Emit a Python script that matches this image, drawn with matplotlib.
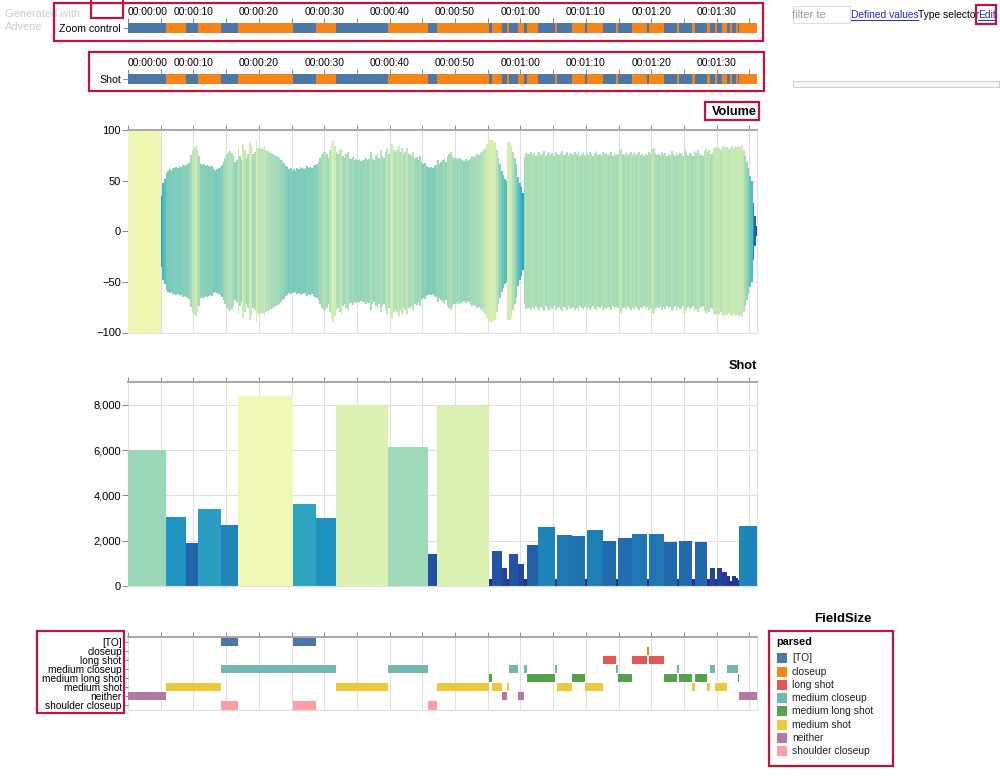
import matplotlib
matplotlib.use("Agg")
import matplotlib.pyplot as plt
from matplotlib.patches import Rectangle
import numpy as np

plt.rcParams['font.family'] = ['Liberation Sans', 'DejaVu Sans']

# ---- data ----
shot_start = [0, 5.81, 8.87, 10.70, 14.22, 16.82, 25.23, 28.75, 31.80, 39.76, 45.87, 47.25,
              55.25, 55.61, 57.14, 58.0, 58.31, 59.68, 60.6, 60.96, 62.74, 65.29, 65.65, 67.84,
              69.93, 70.24, 72.68, 74.62, 74.97, 77.07, 79.31, 79.72, 81.96, 83.89, 84.3, 86.24,
              86.65, 88.58, 88.94, 89.7, 90.06, 90.88, 91.54, 92.1, 92.3, 92.97, 93.32, 93.48]
shot_duration = [6000, 3050, 1900, 3400, 2700, 8400, 3600, 3000, 8000, 6150, 1400, 7950,
                 330, 1550, 800, 300, 1430, 980, 300, 1800, 2600, 300, 2250, 2200,
                 300, 2450, 2000, 300, 2100, 2280, 300, 2300, 1950, 300, 2000, 300,
                 1950, 300, 780, 300, 800, 600, 450, 200, 450, 350, 250, 2650]
video_end = 96.2

volume_intro = 100
volume_intro_end = 5.0
volume_first = 5.0
volume_step = 0.25
volume = [
    35, 48, 52, 58,  60, 61, 60, 62,  62, 63, 62, 64,  63, 65, 64, 65,  66, 67, 75, 80,
    82, 84, 80, 74,  66, 65, 66, 64,  65, 64, 63, 64,  61, 60, 61, 62,  63, 65, 68, 72,
    76, 78, 79, 77,  74, 68, 70, 82,  74, 70, 86, 80,  72, 76, 88, 84,  76, 78, 90, 82,
    80, 82, 81, 84,  80, 79, 78, 77,  76, 75, 74, 73,  72, 70, 68, 67,  64, 63, 61, 62,
    60, 61, 60, 62,  61, 63, 62, 61,  62, 64, 62, 63,  62, 64, 65, 66,  68, 72, 76, 78,
    78, 76, 72, 80,  86, 90, 84, 78,  76, 80, 82, 74,  72, 76, 78, 72,  71, 73, 70, 71,
    70, 71, 69, 70,  70, 72, 70, 71,  78, 72, 70, 74,  76, 72, 80, 74,  72, 78, 82, 76,
    84, 86, 80, 78,  80, 84, 78, 82,  76, 78, 82, 76,  76, 74, 78, 72,  73, 70, 74, 68,
    66, 67, 64, 63,  62, 63, 62, 64,  65, 70, 66, 68,  70, 72, 68, 74,  76, 78, 74, 72,
    72, 70, 72, 71,  70, 69, 71, 69,  70, 72, 74, 73,  74, 76, 75, 77,  78, 80, 82, 86,
    90, 90, 90, 89,  88, 80, 72, 66,  60, 56, 52, 50,  88, 88, 84, 78,  72, 66, 54, 48,
    44, 38, 72, 77,  76, 76, 78, 75,  77, 74, 76, 78,  75, 77, 79, 74,  76, 78, 75, 77,
    74, 78, 76, 75,  77, 79, 75, 76,  78, 74, 77, 76,  75, 78, 76, 79,  74, 76, 78, 75,
    77, 75, 78, 76,  74, 77, 79, 75,  76, 74, 78, 76,  77, 75, 76, 78,  74, 77, 75, 76,
    82, 81, 76, 75,  77, 74, 76, 78,  75, 77, 74, 76,  78, 75, 76, 74,  77, 75, 78, 76,
    81, 82, 77, 75,  76, 74, 78, 75,  77, 74, 76, 75,  79, 76, 74, 78,  75, 77, 76, 74,
    81, 78, 75, 77,  76, 74, 79, 77,  80, 76, 75, 74,  79, 81, 78, 80,  76, 77, 82, 83,
    81, 82, 80, 83,  84, 82, 83, 81,  83, 84, 82, 84,  83, 84, 83, 85,
    80, 74, 68, 62,  55, 50, 28, 15,  5]

field_categories = ['[TO]', 'closeup', 'long shot', 'medium closeup', 'medium long shot',
                    'medium shot', 'neither', 'shoulder closeup']
field_colors = ['#4c78a8', '#f58518', '#e45756', '#72b7b2', '#54a24b', '#eeca3b', '#b279a2', '#ff9da6']
field_label = ['neither', 'medium shot', '[TO]', 'medium closeup', 'shoulder closeup', '[TO]',
               'shoulder closeup', 'medium shot', 'medium closeup', 'shoulder closeup', 'medium shot',
               'medium long shot', 'medium shot', 'neither', 'medium shot', 'medium closeup', 'neither',
               'medium closeup', 'medium long shot', 'medium closeup', 'medium shot', 'medium long shot',
               'medium shot', 'long shot', 'medium closeup', 'medium long shot', 'long shot',
               'closeup', 'long shot', 'medium long shot', 'medium closeup', 'medium long shot', 'medium shot',
               'medium long shot', 'medium shot', 'medium closeup', 'medium shot', 'medium closeup',
               'medium long shot', 'neither']
field_start = [0, 5.81, 14.22, 14.22, 14.22, 25.23, 25.23, 31.80, 39.76, 45.87, 47.25,
               55.25, 55.61, 57.14, 58.0, 58.31, 59.68, 60.6, 60.96, 65.29, 65.65, 67.84,
               69.93, 72.68, 74.62, 74.97, 77.07, 79.31, 79.72, 81.96, 83.89, 84.3, 86.24,
               86.65, 88.58, 88.94, 89.7, 91.54, 93.32, 93.48]
field_end = [5.81, 14.22, 16.82, 31.80, 16.82, 28.75, 28.75, 39.76, 45.87, 47.25, 55.25,
             55.61, 57.14, 58.0, 58.31, 59.68, 60.6, 60.96, 65.29, 65.65, 67.84, 69.93,
             72.68, 74.62, 74.97, 77.07, 79.31, 79.72, 81.96, 83.89, 84.3, 86.24, 86.65,
             88.58, 88.94, 89.7, 91.54, 93.32, 93.48, 96.13]

time_ticks = list(range(0, 96, 5))
time_labels = ['00:00:00', '00:00:10', '00:00:20', '00:00:30', '00:00:40', '00:00:50',
               '00:01:00', '00:01:10', '00:01:20', '00:01:30']
volume_ticks = [-100, -50, 0, 50, 100]
volume_tick_labels = ['\u2212100', '\u221250', '0', '50', '100']
shot_ticks = [0, 2000, 4000, 6000, 8000]
shot_tick_labels = ['0', '2,000', '4,000', '6,000', '8,000']

# colour ramps (position in YlGnBu for a value)
vol_anchor_v = [0, 30, 50, 60, 78, 100]
vol_anchor_p = [0.86, 0.62, 0.47, 0.39, 0.29, 0.12]
shot_anchor_d = [300, 800, 1500, 2000, 2600, 3000, 3600, 6000, 8000, 8400]
shot_anchor_p = [0.88, 0.83, 0.78, 0.72, 0.66, 0.62, 0.56, 0.33, 0.18, 0.115]
ramp = plt.get_cmap('YlGnBu')


def vol_color(v):
    return ramp(float(np.interp(v, vol_anchor_v, vol_anchor_p)))


def shot_color(d):
    return ramp(float(np.interp(d, shot_anchor_d, shot_anchor_p)))


# ---- layout helpers ----
W, H = 1000, 778
fig = plt.figure(figsize=(10, 7.78), dpi=100, facecolor='white')
X0, X1 = 128, 757
TMAX = (X1 - X0) / 6.54


def px_axes(x0, y0, x1, y1, **kw):
    return fig.add_axes([x0 / W, 1 - y1 / H, (x1 - x0) / W, (y1 - y0) / H], **kw)


GRID = '#e0e0e0'
DOMAIN = '#a8a8a8'
TICK = '#888888'
FS = 7.4


def frame(ax):
    ax.set_xlim(0, TMAX)
    ax.set_facecolor('none')
    for s in ['left', 'right', 'bottom']:
        ax.spines[s].set_color(GRID)
        ax.spines[s].set_linewidth(0.8)
    ax.spines['left'].set_visible(False)
    ax.spines['top'].set_color(DOMAIN)
    ax.spines['top'].set_linewidth(1.4)
    ax.xaxis.tick_top()
    ax.set_xticks(time_ticks)
    ax.set_xticklabels([])
    ax.tick_params(axis='x', length=3.3, width=0.7, color=TICK, pad=1)
    ax.tick_params(axis='y', length=4, width=0.7, color=TICK, pad=1, labelsize=FS + 0.6)
    ax.grid(True, color=GRID, lw=0.8)
    ax.set_axisbelow(True)


# ---- timelines ----
for (y0, y1, name) in [(23, 33, 'Zoom control'), (74, 84, 'Shot')]:
    ax = px_axes(X0, y0, X1, y1)
    ax.set_xlim(0, TMAX)
    ax.set_ylim(0, 1)
    ends = shot_start[1:] + [video_end]
    for i, (s, e) in enumerate(zip(shot_start, ends)):
        ax.barh(0.5, e - s, left=s, height=1, color='#4c78a8' if i % 2 == 0 else '#f58518', lw=0)
    for s in ax.spines.values():
        s.set_visible(False)
    ax.xaxis.tick_top()
    ax.set_xticks(time_ticks)
    ax.set_xticklabels([])
    ax.tick_params(axis='x', length=3.3, width=0.7, color=TICK)
    ax.set_yticks([0.5])
    ax.set_yticklabels([name], fontsize=FS + 0.2)
    ax.tick_params(axis='y', length=3.6, width=0.7, color=TICK, pad=1.5)
    for t, lab in zip(time_ticks[::2], time_labels):
        ax.annotate(lab, (t, 1), xytext=(0, 4.6), textcoords='offset points',
                    ha='center' if t else 'left', va='bottom', fontsize=FS)

# ---- volume ----
ax = px_axes(X0, 130, X1, 332.5)
frame(ax)
ax.set_ylim(-100, 100)
ax.bar(0, 2 * volume_intro, bottom=-volume_intro, width=volume_intro_end, align='edge',
       color=vol_color(volume_intro), lw=0, zorder=2)
for i, v in enumerate(volume):
    ax.bar(volume_first + i * volume_step, 2 * v, bottom=-v, width=volume_step * 1.08, align='edge',
           color=vol_color(v), lw=0, zorder=2)
ax.set_yticks(volume_ticks)
ax.set_yticklabels(volume_tick_labels)

# ---- shot durations ----
ax = px_axes(X0, 382, X1, 586)
frame(ax)
ax.set_ylim(0, 9000)
ends = shot_start[1:] + [video_end]
for s, e, d in zip(shot_start, ends, shot_duration):
    ax.bar(s, d, width=e - s, align='edge', color=shot_color(d), lw=0, zorder=2)
ax.set_yticks(shot_ticks)
ax.set_yticklabels(shot_tick_labels)

# ---- field size lanes ----
ax = px_axes(X0, 637, X1, 710)
frame(ax)
n = len(field_categories)
ax.set_ylim(n - 0.5, -0.5)
ax.grid(False, axis='y')
for lab, s, e in zip(field_label, field_start, field_end):
    k = field_categories.index(lab)
    ax.barh(k, e - s, left=s, height=0.9, color=field_colors[k], lw=0, zorder=2)
ax.set_yticks(range(n))
ax.set_yticklabels(field_categories, fontsize=7.3)
ax.tick_params(axis='y', length=2.5, pad=2)

# ---- overlay: page furniture in pixel coordinates ----
ov = fig.add_axes([0, 0, 1, 1], facecolor='none')
ov.set_xlim(0, W)
ov.set_ylim(H, 0)
ov.axis('off')
RED = '#c0143c'
for (x, y, w, h) in [(54, 3, 709, 38), (91, -3, 32, 21), (89, 52, 675, 39), (705, 102, 54, 18),
                     (37, 631, 87, 82), (769, 631, 124, 135), (976, 5, 20, 19)]:
    ov.add_patch(Rectangle((x, y), w, h, fill=False, ec=RED, lw=1.6, clip_on=True, zorder=5))

ov.text(757, 112, 'Volume', ha='right', va='center', fontsize=9.2, fontweight='bold')
ov.text(757, 366, 'Shot', ha='right', va='center', fontsize=9.2, fontweight='bold')
ov.text(843, 619, 'FieldSize', ha='center', va='center', fontsize=9.5, fontweight='bold')
ov.text(776, 642, 'parsed', ha='left', va='center', fontsize=7.8, fontweight='bold')
legend_y0, legend_dy = 658.3, 13.27
for i, (lab, c) in enumerate(zip(field_categories, field_colors)):
    y = legend_y0 + i * legend_dy
    ov.add_patch(Rectangle((777, y - 5), 10, 10, fc=c, ec='none'))
    ov.text(792, y, lab, ha='left', va='center', fontsize=7.4, color='#222222')

ov.text(5, 14, 'Generated with', ha='left', va='center', fontsize=7.9, color='#cccccc')
ov.text(5, 27, 'Advene', ha='left', va='center', fontsize=7.9, color='#cccccc')
ov.add_patch(Rectangle((793, 6), 57, 17, fc='white', ec='#dddddd', lw=0.8))
ov.text(792, 15, 'filter te', ha='left', va='center', fontsize=8, color='#999999')
LINK = '#2a2ac0'
ov.text(851, 15, 'Defined values', ha='left', va='center', fontsize=7.4, color=LINK)
ov.plot([851, 918], [20, 20], color=LINK, lw=0.7)
ov.text(918, 15, 'Type selector', ha='left', va='center', fontsize=7.4, color='black')
ov.text(978, 15, 'Edit', ha='left', va='center', fontsize=7.4, color=LINK)
ov.plot([978, 995], [20, 20], color=LINK, lw=0.7)
ov.add_patch(Rectangle((793, 81), 206, 6, fc='#f7f7f7', ec='#cccccc', lw=0.7))

fig.savefig('out.png', dpi=100)
